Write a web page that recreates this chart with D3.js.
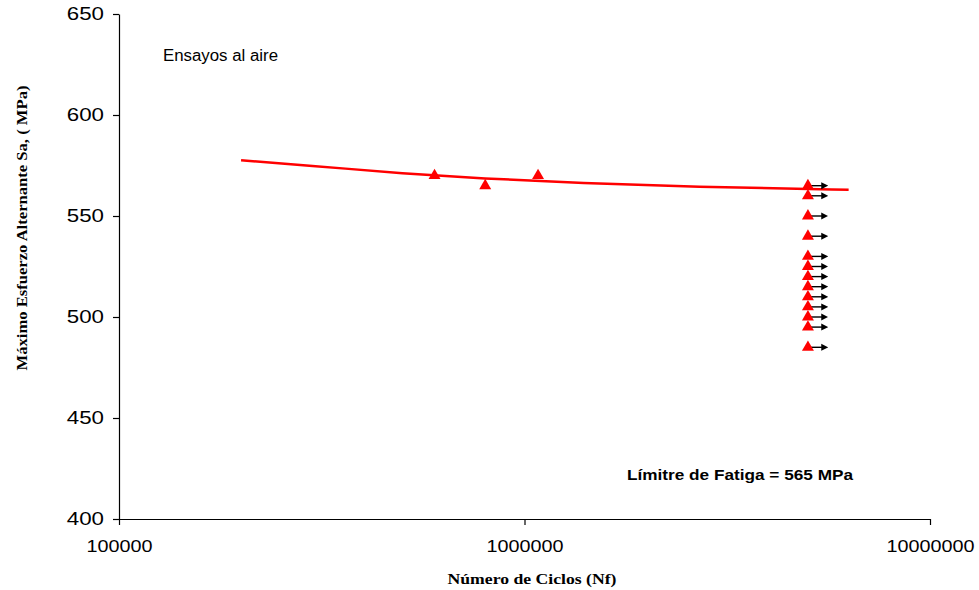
<!DOCTYPE html>
<html lang="es">
<head>
<meta charset="UTF-8">
<title>Ensayos al aire</title>
<script src="https://d3js.org/d3.v7.min.js"></script>
<style>
  body { margin: 0; background: #fff; }
  svg { display: block; }
  .tick text { font-family: "Liberation Sans", Arial, sans-serif; fill: #000; }
</style>
</head>
<body>
<div id="chart"></div>
<script>
// ensayos que rompieron (ciclos, MPa)
const brokenCycles = [600000, 800000, 1080000];
const brokenStress = [570, 565, 570];

// ensayos sin rotura (run-outs) a 5e6 ciclos
const runoutCycles = 5000000;
const runoutStress = [565, 560, 550, 540, 530, 525, 520, 515, 510, 505, 500, 495, 485];

// curva de ajuste
const fitCycles = [200000, 300000, 500000, 800000, 1400000, 2700000, 6300000];
const fitStress = [577.6, 574.8, 571.2, 568.6, 566.3, 564.5, 563.0];

const xTicks = [100000, 1000000, 10000000];
const yTicks = [400, 450, 500, 550, 600, 650];

const W = 979, H = 590;
const margin = { top: 14, right: 49, bottom: 71, left: 119 };

const svg = d3.select("#chart").append("svg")
    .attr("width", W)
    .attr("height", H);

const x = d3.scaleLog()
    .domain([1e5, 1e7])
    .range([margin.left, W - margin.right]);

const y = d3.scaleLinear()
    .domain([400, 650])
    .range([H - margin.bottom, margin.top]);

// ejes
const xAxis = svg.append("g")
    .attr("transform", `translate(0,${H - margin.bottom})`)
    .call(d3.axisBottom(x).tickValues(xTicks).tickFormat(d3.format("d")).tickSize(6).tickSizeOuter(0));
xAxis.selectAll("text")
    .attr("font-size", 16)
    .attr("dy", "1.5em")
    .attr("textLength", d => String(d).length * 11)
    .attr("lengthAdjust", "spacingAndGlyphs");

const yAxis = svg.append("g")
    .attr("transform", `translate(${margin.left},0)`)
    .call(d3.axisLeft(y).tickValues(yTicks).tickSize(6).tickSizeOuter(0));
yAxis.selectAll("text")
    .attr("font-size", 18)
    .attr("x", -15)
    .attr("textLength", d => String(d).length * 12.4)
    .attr("lengthAdjust", "spacingAndGlyphs");

svg.selectAll(".domain, .tick line").attr("stroke", "#000").attr("stroke-width", 1.2);

// curva
const line = d3.line()
    .x(d => x(d[0]))
    .y(d => y(d[1]))
    .curve(d3.curveMonotoneX);

svg.append("path")
    .datum(fitCycles.map((c, i) => [c, fitStress[i]]))
    .attr("fill", "none")
    .attr("stroke", "#ff0000")
    .attr("stroke-width", 2.5)
    .attr("d", line);

// flechas de run-out
svg.append("defs").append("marker")
    .attr("id", "arrow")
    .attr("viewBox", "0 0 10 10")
    .attr("refX", 1)
    .attr("refY", 5)
    .attr("markerWidth", 7)
    .attr("markerHeight", 8)
    .attr("markerUnits", "userSpaceOnUse")
    .attr("orient", "auto")
    .append("path")
    .attr("d", "M0,0L10,5L0,10Z")
    .attr("fill", "#000");

svg.append("g").selectAll("line")
    .data(runoutStress)
    .join("line")
    .attr("x1", x(runoutCycles))
    .attr("x2", x(runoutCycles) + 14)
    .attr("y1", d => y(d))
    .attr("y2", d => y(d))
    .attr("stroke", "#000")
    .attr("stroke-width", 1.4)
    .attr("marker-end", "url(#arrow)");

// marcadores
const tri = d3.symbol(d3.symbolTriangle, 62);
const points = brokenCycles.map((c, i) => [c, brokenStress[i]])
    .concat(runoutStress.map(s => [runoutCycles, s]));

svg.append("g").selectAll("path")
    .data(points)
    .join("path")
    .attr("transform", d => `translate(${x(d[0])},${y(d[1])})`)
    .attr("d", tri)
    .attr("fill", "#ff0000");

// textos
svg.append("text")
    .attr("x", 163)
    .attr("y", 61)
    .attr("font-family", "Liberation Sans, Arial, sans-serif")
    .attr("font-size", 16)
    .attr("textLength", 115)
    .attr("lengthAdjust", "spacingAndGlyphs")
    .text("Ensayos al aire");

svg.append("text")
    .attr("x", 627)
    .attr("y", 480)
    .attr("font-family", "Liberation Sans, Arial, sans-serif")
    .attr("font-size", 15)
    .attr("font-weight", "bold")
    .attr("textLength", 226)
    .attr("lengthAdjust", "spacingAndGlyphs")
    .text("Límitre de Fatiga = 565 MPa");

svg.append("text")
    .attr("x", 532)
    .attr("y", 584)
    .attr("text-anchor", "middle")
    .attr("font-family", "Liberation Serif, Times New Roman, serif")
    .attr("font-size", 15)
    .attr("font-weight", "bold")
    .attr("textLength", 169)
    .attr("lengthAdjust", "spacingAndGlyphs")
    .text("Número de Ciclos (Nf)");

svg.append("text")
    .attr("transform", "translate(27,228) rotate(-90)")
    .attr("text-anchor", "middle")
    .attr("font-family", "Liberation Serif, Times New Roman, serif")
    .attr("font-size", 15)
    .attr("font-weight", "bold")
    .attr("textLength", 285)
    .attr("lengthAdjust", "spacingAndGlyphs")
    .text("Máximo Esfuerzo Alternante Sa, ( MPa)");
</script>
</body>
</html>
